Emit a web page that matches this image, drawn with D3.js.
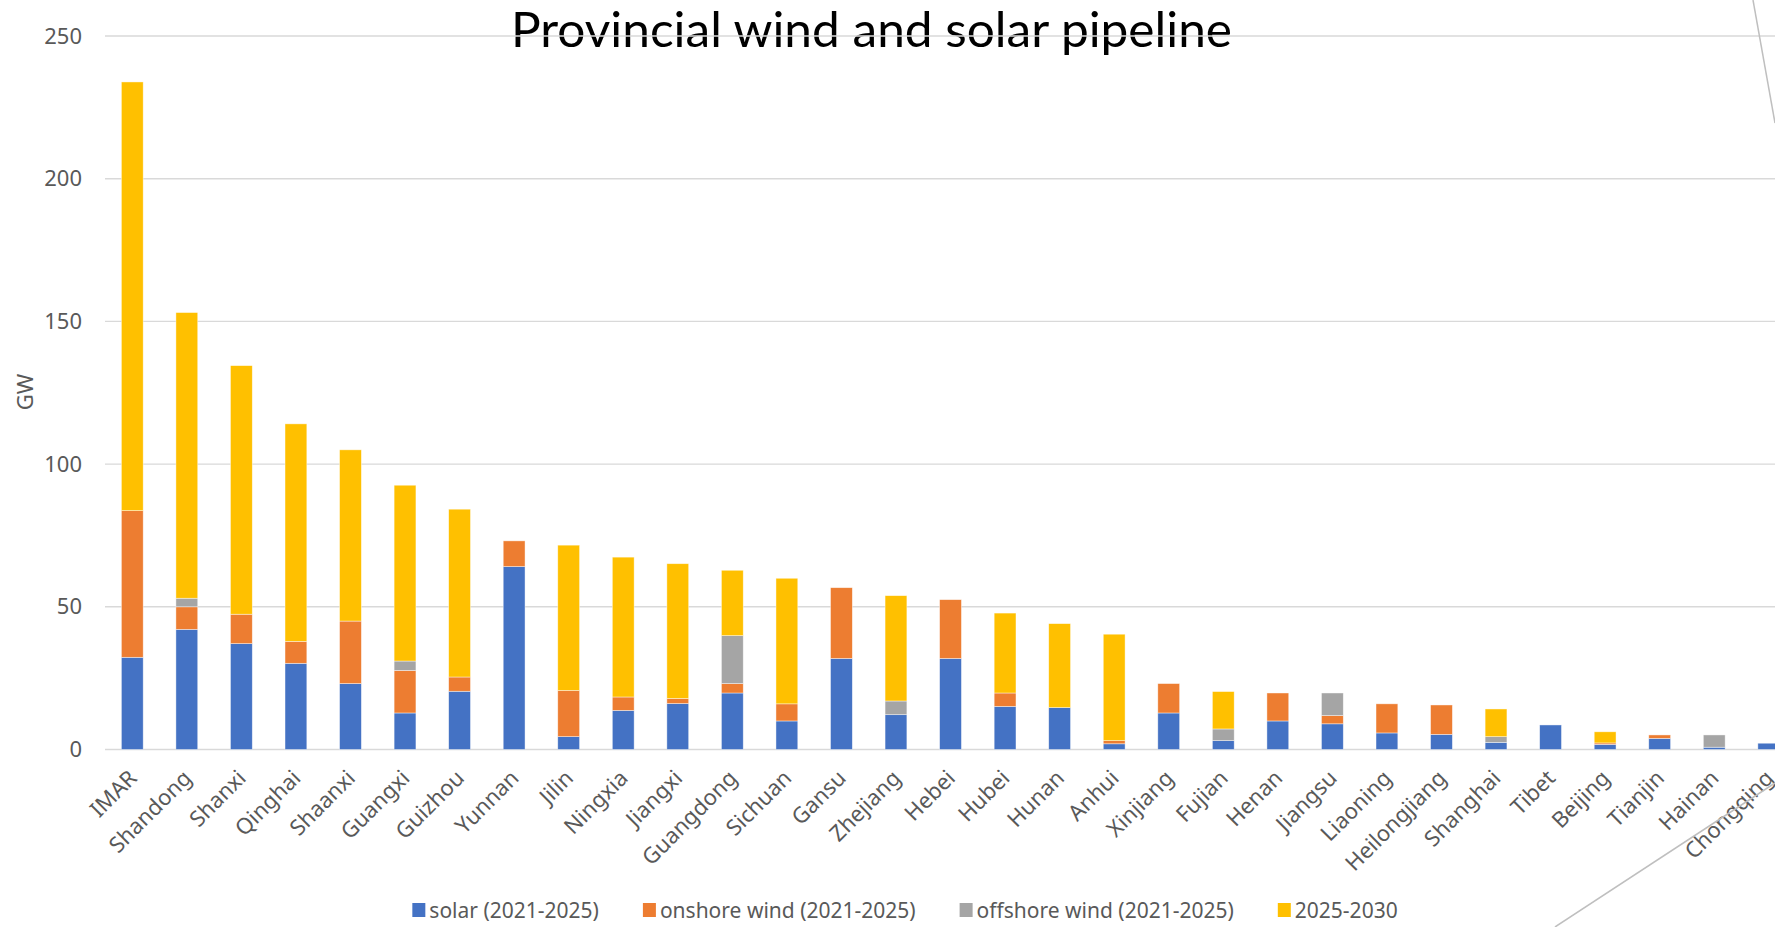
<!DOCTYPE html>
<html>
<head>
<meta charset="utf-8">
<script src="https://cdn.jsdelivr.net/npm/d3@7/dist/d3.min.js"></script>
<style>
  body { margin: 0; background: #fff; }
  svg text { font-family: "Noto Sans", "Open Sans", sans-serif; }
</style>
</head>
<body>
<svg id="chart0" width="1775" height="927"></svg>
<script>
// provinces, sorted by total pipeline (GW)
var categories = ['IMAR', 'Shandong', 'Shanxi', 'Qinghai', 'Shaanxi', 'Guangxi', 'Guizhou', 'Yunnan', 'Jilin',
  'Ningxia', 'Jiangxi', 'Guangdong', 'Sichuan', 'Gansu', 'Zhejiang', 'Hebei', 'Hubei', 'Hunan', 'Anhui',
  'Xinjiang', 'Fujian', 'Henan', 'Jiangsu', 'Liaoning', 'Heilongjiang', 'Shanghai', 'Tibet', 'Beijing',
  'Tianjin', 'Hainan', 'Chongqing'];
var solar = [32.3, 42.1, 37.1, 30.2, 23.1, 12.8, 20.4, 64.1, 4.5, 13.7, 16.1, 19.8, 10.0, 31.9, 12.2, 31.9,
  15.1, 14.7, 2.0, 12.8, 3.1, 10.0, 9.0, 5.8, 5.3, 2.5, 8.6, 1.8, 3.9, 0.8, 2.2];
var onshore = [51.4, 7.9, 10.3, 7.7, 21.9, 14.9, 5.0, 9.0, 16.2, 4.7, 1.8, 3.3, 6.0, 24.8, 0, 20.6,
  4.7, 0, 1.1, 10.3, 0, 9.8, 2.9, 10.2, 10.3, 0, 0, 0.5, 1.2, 0, 0];
var offshore = [0, 3.0, 0, 0, 0, 3.3, 0, 0, 0, 0, 0, 16.8, 0, 0, 4.8, 0,
  0, 0, 0, 0, 4.1, 0, 7.9, 0, 0, 2.0, 0, 0, 0, 4.3, 0];
var later = [150.2, 100.1, 87.1, 76.2, 60.0, 61.6, 58.8, 0, 50.9, 49.0, 47.2, 22.9, 44.0, 0, 36.9, 0,
  28.0, 29.4, 37.3, 0, 13.1, 0, 0, 0, 0, 9.7, 0, 3.9, 0, 0, 0];
var seriesNames = ['solar (2021-2025)', 'onshore wind (2021-2025)', 'offshore wind (2021-2025)', '2025-2030'];
var yTicks = [0, 50, 100, 150, 200, 250];

(function () {
  'use strict';
  var COLORS = ['#4472C4', '#ED7D31', '#A5A5A5', '#FFC000'];
  var keys = ['solar', 'onshore', 'offshore', 'later'];

  var svg = d3.select('#chart0');
  var W = 1775, H = 927;
  var plotLeft = 105, plotTop = 36, plotBottom = 749.5;

  var rows = categories.map(function (c, i) {
    return { name: c, solar: solar[i], onshore: onshore[i], offshore: offshore[i], later: later[i] };
  });

  // plot runs past the right edge of the slide, so the last band is cut off
  var x = d3.scaleBand().domain(categories).range([plotLeft, plotLeft + 31 * 54.55]).paddingInner(0.6).paddingOuter(0.3);
  var y = d3.scaleLinear().domain([0, 250]).range([plotBottom, plotTop]);

  svg.append('rect').attr('width', W).attr('height', H).attr('fill', '#fff');

  // title (the top grid line runs over it)
  svg.append('text')
    .attr('x', 871.5).attr('y', 47)
    .attr('text-anchor', 'middle')
    .attr('textLength', 721).attr('lengthAdjust', 'spacingAndGlyphs')
    .style('font-family', 'Lato, "Noto Sans", sans-serif')
    .style('font-size', '48px')
    .style('fill', '#000')
    .text('Provincial wind and solar pipeline');

  // grid
  svg.append('g').selectAll('line')
    .data(yTicks)
    .enter().append('line')
    .attr('x1', plotLeft).attr('x2', W)
    .attr('y1', function (d) { return y(d); })
    .attr('y2', function (d) { return y(d); })
    .attr('stroke', '#d9d9d9').attr('stroke-width', 1.4);

  // y axis labels
  var yAxis = d3.axisLeft(y).tickValues(yTicks).tickSize(0).tickPadding(0);
  var gy = svg.append('g').attr('transform', 'translate(82,0)').call(yAxis);
  gy.select('.domain').remove();
  gy.selectAll('text')
    .style('font-family', '"Noto Sans", sans-serif')
    .style('font-size', '22px')
    .style('fill', '#595959');

  svg.append('text')
    .attr('transform', 'translate(33,392) rotate(-90)')
    .attr('text-anchor', 'middle')
    .style('font-size', '22px')
    .style('fill', '#595959')
    .text('GW');

  // stacked bars
  var stacked = d3.stack().keys(keys)(rows);
  svg.append('g').selectAll('g')
    .data(stacked)
    .enter().append('g')
    .attr('fill', function (d, i) { return COLORS[i]; })
    .selectAll('rect')
    .data(function (d) { return d.filter(function (s) { return s[1] - s[0] > 0; }); })
    .enter().append('rect')
    .attr('x', function (d) { return x(d.data.name); })
    .attr('width', x.bandwidth())
    .attr('y', function (d) { return y(d[1]); })
    .attr('height', function (d) { return y(d[0]) - y(d[1]); })
    .attr('stroke', '#fff').attr('stroke-width', 0.7).attr('stroke-opacity', 0.6);

  // category labels, rotated
  var xAxis = d3.axisBottom(x).tickSize(0).tickPadding(0);
  var gx = svg.append('g').attr('transform', 'translate(0,' + plotBottom + ')').call(xAxis);
  gx.select('.domain').remove();
  gx.selectAll('text')
    .attr('text-anchor', 'end')
    .attr('y', 0).attr('dy', 0)
    .attr('transform', 'translate(6,30) rotate(-45)')
    .style('font-family', '"Noto Sans", sans-serif')
    .style('font-size', '22px')
    .style('fill', '#595959');

  // legend
  var legend = svg.append('g').attr('transform', 'translate(0,910)');
  var items = legend.selectAll('g')
    .data(seriesNames)
    .enter().append('g');
  items.append('rect')
    .attr('y', -7).attr('width', 13).attr('height', 14)
    .attr('fill', function (d, i) { return COLORS[i]; });
  items.append('text')
    .attr('x', 17).attr('dy', '0.36em')
    .style('font-size', '21px')
    .style('fill', '#595959')
    .text(function (d) { return d; });
  var lx = 0;
  var offsets = [];
  items.each(function () {
    offsets.push(lx);
    lx += 17 + d3.select(this).select('text').node().getComputedTextLength() + 44;
  });
  var legendW = lx - 44;
  var lx0 = 905 - legendW / 2;
  items.attr('transform', function (d, i) { return 'translate(' + (lx0 + offsets[i]) + ',0)'; });

  // slide decoration lines
  svg.append('line').attr('x1', 1753).attr('y1', 0).attr('x2', 1775).attr('y2', 123)
    .attr('stroke', '#bfbfbf').attr('stroke-width', 1.5);
  svg.append('line').attr('x1', 1555).attr('y1', 927).attr('x2', 1775).attr('y2', 783)
    .attr('stroke', '#bfbfbf').attr('stroke-width', 1.5);
})();
</script>
</body>
</html>
